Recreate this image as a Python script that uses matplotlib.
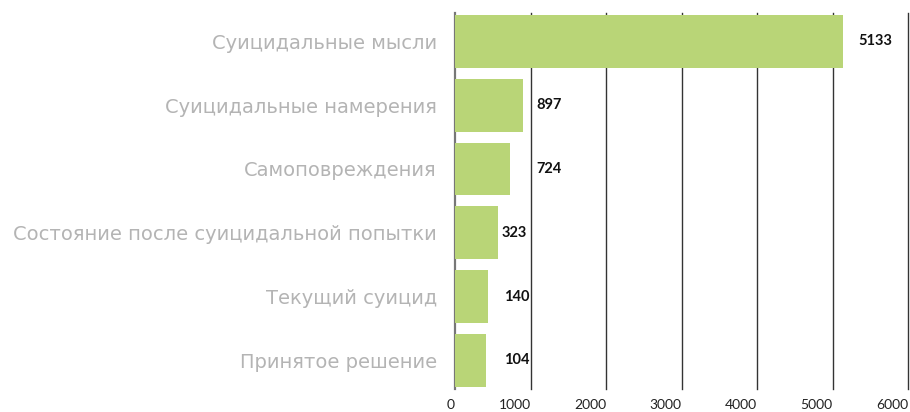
import matplotlib
matplotlib.use("Agg")
import matplotlib.pyplot as plt
from matplotlib.transforms import offset_copy

categories = [
    "Суицидальные мысли",
    "Суицидальные намерения",
    "Самоповреждения",
    "Состояние после суицидальной попытки",
    "Текущий суицид",
    "Принятое решение",
]
values = [5133, 897, 724, 323, 140, 104]
# bar lengths as drawn in the picture (small bars are shown with a minimum length)
bar_lengths = [5133, 897, 724, 570, 437, 406]
x_ticks = [0, 1000, 2000, 3000, 4000, 5000, 6000]

plt.rcParams['font.family'] = ['Lato', 'DejaVu Sans']

fig = plt.figure(figsize=(9.1, 4.12), dpi=100)
ax = fig.add_axes([0.5, 0.0558, 0.4981, 0.9134])

ypos = list(range(len(categories)))
ax.barh(ypos, bar_lengths, height=0.827, color="#b9d577", zorder=2)

ax.set_xlim(0, 6000)
ax.set_ylim(len(categories) - 0.55, -0.45)

for s in ax.spines.values():
    s.set_visible(False)

ax.set_xticks(x_ticks)
ax.set_xticklabels([str(t) for t in x_ticks], fontsize=10, color="#222222", ha='right')
ax.tick_params(axis='x', length=0, pad=7)
ax.set_yticks(ypos)
ax.set_yticklabels(categories, fontsize=14, color="#b4b4b4", family=['DejaVu Sans'])
ax.tick_params(axis='y', length=0, pad=13)

for t in x_ticks:
    ax.axvline(t, color="#777777" if t == 0 else "#333333",
               lw=1.6 if t == 0 else 1.0, zorder=1, clip_on=False)

label_offsets_px = [16, 14, 27, 4, 16, 18]
for y, v, L, off in zip(ypos, values, bar_lengths, label_offsets_px):
    tr = offset_copy(ax.transData, fig=fig, x=off, y=0, units='dots')
    ax.text(L, y, str(v), transform=tr, ha='left', va='center',
            fontsize=10.5, fontweight='bold', color="#111111")

fig.savefig("out.png", dpi=100)
